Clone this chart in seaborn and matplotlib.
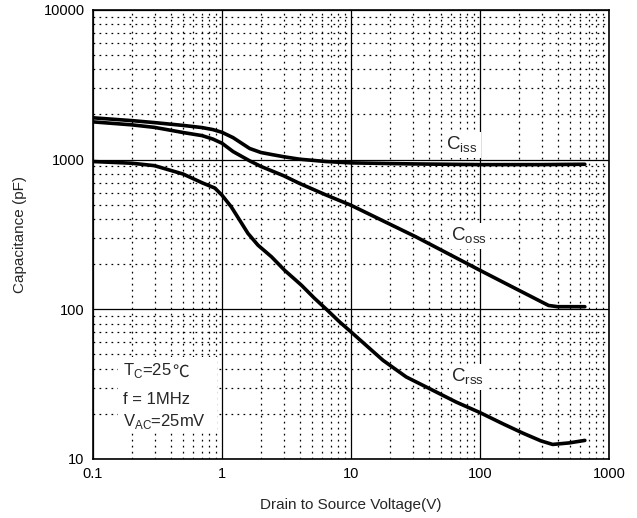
import matplotlib
matplotlib.use("Agg")
import matplotlib.pyplot as plt
from matplotlib.patches import Rectangle
from matplotlib.ticker import LogLocator, FixedLocator, FixedFormatter, NullFormatter
import seaborn as sns
import pandas as pd

# values (V in volts, C in pF)
v_ciss = [0.1, 0.2, 0.3, 0.5, 0.7, 0.85, 1.0, 1.22, 1.47, 1.64, 2.0, 2.5, 3.0, 4.0, 6.4, 10, 30, 100, 300, 650]
c_ciss = [1900, 1820, 1765, 1690, 1635, 1585, 1520, 1400, 1260, 1185, 1115, 1075, 1045, 1005, 970, 950, 935, 925, 925, 930]

v_coss = [0.1, 0.2, 0.3, 0.5, 0.7, 0.85, 1.0, 1.22, 1.64, 2.0, 3.0, 4.0, 6.4, 10, 32, 100, 190, 340, 400, 650]
c_coss = [1785, 1705, 1640, 1515, 1445, 1370, 1285, 1130, 980, 900, 780, 692, 580, 495, 304, 182, 137, 106, 104, 104]

v_crss = [0.1, 0.2, 0.3, 0.5, 0.7, 0.88, 1.0, 1.18, 1.37, 1.59, 1.9, 2.42, 3.06, 4.12, 5.23, 6.44, 8.17, 10,
          13.1, 17.7, 26.8, 40.6, 65.3, 100, 150, 214, 297, 366, 492, 650]
c_crss = [970, 945, 910, 800, 700, 645, 578, 483, 394, 321, 268, 224, 182, 145, 118, 100, 82.2, 70.6,
          57.4, 45.6, 35.3, 29.5, 24.0, 20.4, 17.2, 14.9, 13.2, 12.5, 12.8, 13.3]

x_ticks = [0.1, 1, 10, 100, 1000]
x_labels = ["0.1", "1", "10", "100", "1000"]
y_ticks = [10, 100, 1000, 10000]
y_labels = ["10", "100", "1000", "10000"]

df = pd.concat([
    pd.DataFrame({"V": v_ciss, "C": c_ciss, "curve": "Ciss"}),
    pd.DataFrame({"V": v_coss, "C": c_coss, "curve": "Coss"}),
    pd.DataFrame({"V": v_crss, "C": c_crss, "curve": "Crss"}),
])

sns.set_style("white")
plt.rcParams["font.family"] = ["Liberation Sans", "DejaVu Sans"]
plt.rcParams["mathtext.fontset"] = "custom"
plt.rcParams["mathtext.rm"] = "Liberation Sans"

fig = plt.figure(figsize=(6.37, 5.18), dpi=100)
ax = fig.add_axes([0.146, 0.114, 0.81, 0.867])

sns.lineplot(data=df, x="V", y="C", hue="curve", palette=["black"] * 3,
             estimator=None, sort=False, legend=False, lw=2.6, ax=ax, zorder=3)

ax.set_xscale("log")
ax.set_yscale("log")
ax.set_xlim(0.1, 1000)
ax.set_ylim(10, 10000)

ax.xaxis.set_major_locator(FixedLocator(x_ticks))
ax.xaxis.set_major_formatter(FixedFormatter(x_labels))
ax.yaxis.set_major_locator(FixedLocator(y_ticks))
ax.yaxis.set_major_formatter(FixedFormatter(y_labels))
for axis in (ax.xaxis, ax.yaxis):
    axis.set_minor_locator(LogLocator(base=10, subs=range(2, 10)))
    axis.set_minor_formatter(NullFormatter())

ax.set_axisbelow(True)
ax.grid(which="major", color="black", lw=0.9, ls="-")
ax.grid(which="minor", color="black", lw=0.9, ls=(0, (1.4, 3.4)))
ax.tick_params(which="both", length=0, labelsize=10.5, colors="black", pad=6)
for s in ax.spines.values():
    s.set_color("black")
    s.set_linewidth(1.2)

ax.set_xlabel("Drain to Source Voltage(V)", fontsize=11, labelpad=12)
ax.set_ylabel("Capacitance (pF)", fontsize=11, labelpad=12)

# curve labels
box = dict(fc="white", ec="none", pad=2)
ax.text(55, 1160, r"C$_\mathregular{iss}$", fontsize=13.5, va="baseline", bbox=box, zorder=4)
ax.text(60, 286, r"C$_\mathregular{oss}$", fontsize=13.5, va="baseline", bbox=box, zorder=4)
ax.text(60, 32.7, r"C$_\mathregular{rss}$", fontsize=13.5, va="baseline", bbox=box, zorder=4)

# test conditions
ax.add_patch(Rectangle((0.048, 0.065), 0.192, 0.162, transform=ax.transAxes,
                       fc="white", ec="none", zorder=2))
t1 = ax.text(0.171, 36.1, r"T$_\mathregular{C}$=25", fontsize=12, va="baseline", zorder=4)
ax.annotate("℃", xy=(1, 0), xycoords=t1, va="bottom", ha="left", fontsize=12,
            family=["Noto Sans CJK SC", "DejaVu Sans"], zorder=4)
ax.text(0.171, 23.4, "f = 1MHz", fontsize=12, va="baseline", zorder=4)
ax.text(0.171, 16.7, r"V$_\mathregular{AC}$=25mV", fontsize=12, va="baseline", zorder=4)

fig.savefig("out.png", dpi=100)
